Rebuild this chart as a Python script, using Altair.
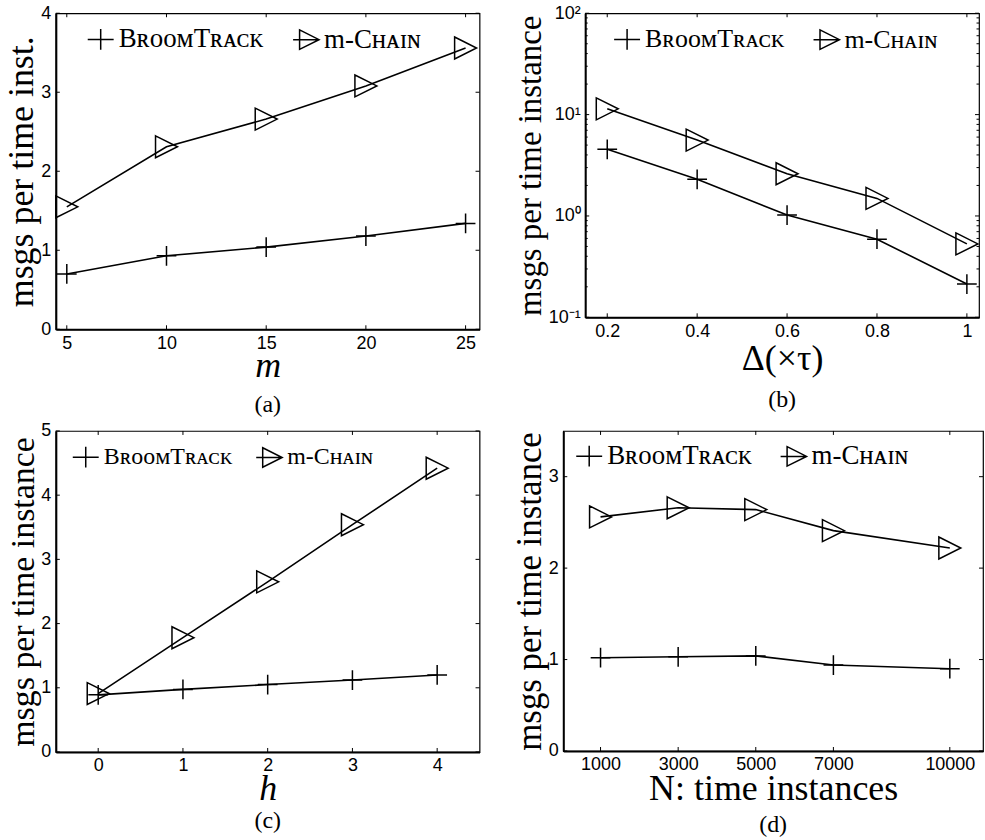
import altair as alt
import pandas as pd

SERIF = "Liberation Serif, Times New Roman, serif"
SANS = "Liberation Sans, Arial, Helvetica, sans-serif"

SERIES = ["BroomTrack", "m-Chain"]
LEGEND_TEXT = ["BʀᴏᴏᴍTʀᴀᴄᴋ", "m-Cʜᴀɪɴ"]

# ---- panel (a): messages vs m ----
a_x = [5, 10, 15, 20, 25]
a_broom = [0.70, 0.93, 1.04, 1.18, 1.34]
a_chain = [1.55, 2.31, 2.66, 3.08, 3.56]
a_yticks = [0, 1, 2, 3, 4]

# ---- panel (b): messages vs Delta (log y) ----
b_x = [0.2, 0.4, 0.6, 0.8, 1.0]
b_broom = [4.54, 2.30, 1.02, 0.59, 0.213]
b_chain = [11.4, 5.6, 2.61, 1.49, 0.53]
b_yticks = [0.1, 1, 10, 100]
b_yminor = [0.2, 0.3, 0.4, 0.5, 0.6, 0.7, 0.8, 0.9,
            2, 3, 4, 5, 6, 7, 8, 9,
            20, 30, 40, 50, 60, 70, 80, 90]

# ---- panel (c): messages vs h ----
c_x = [0, 1, 2, 3, 4]
c_broom = [0.89, 0.975, 1.05, 1.12, 1.20]
c_chain = [0.91, 1.78, 2.65, 3.54, 4.42]
c_yticks = [0, 1, 2, 3, 4, 5]

# ---- panel (d): messages vs N ----
d_x = [1000, 3000, 5000, 7000, 10000]
d_broom = [1.02, 1.03, 1.04, 0.94, 0.90]
d_chain = [2.56, 2.66, 2.64, 2.41, 2.22]
d_yticks = [0, 1, 2, 3]

# marker glyphs (unit-box SVG paths)
PLUS = "M-0.9,0H0.9M0,-0.9V0.9"
TRI = "M-1,-1L1,0L-1,1Z"
LEG_PLUS = "M-1,0H1M0,-0.8V0.8"
LEG_TRI = "M-1,0H1M-0.5,-0.75L1,0L-0.5,0.75Z"

label_expr = "datum.label == '%s' ? '%s' : '%s'" % (SERIES[0], LEGEND_TEXT[0], LEGEND_TEXT[1])
LOG_LABELS = ("datum.value < 0.5 ? '10⁻¹' : datum.value < 5 ? '10⁰' : "
              "datum.value < 50 ? '10¹' : '10²'")

AX = dict(labelFont=SANS, labelFontSize=18, labelColor="black", labelPadding=5,
          labelFlush=False, labelOverlap=False, domainColor="black", domainWidth=2,
          ticks=False, grid=False, titleFont=SERIF, titleFontWeight="normal",
          titleColor="black")


def panel(xv, broom, chain, xdom, ydom, xticks, yticks, w, h, xtitle, ytitle,
          caption, ytfs, lfs, lx, ly, xtpad, ytpad, xstyle="normal",
          ylog=False, xfmt="d", yminor=None, capoff=10, colpad=10):
    n = len(xv)
    df = pd.DataFrame({
        "x": list(xv) * 2,
        "y": list(broom) + list(chain),
        "series": [SERIES[0]] * n + [SERIES[1]] * n,
    })
    xs = alt.Scale(domain=xdom, nice=False, zero=False)
    if ylog:
        ys = alt.Scale(type="log", domain=ydom, nice=False)
        yaxis = alt.Axis(values=yticks, title=ytitle, titleFontSize=ytfs,
                         titlePadding=ytpad, labelExpr=LOG_LABELS, **AX)
    else:
        ys = alt.Scale(domain=ydom, nice=False, zero=False)
        yaxis = alt.Axis(values=yticks, title=ytitle, titleFontSize=ytfs,
                         titlePadding=ytpad, format="d", **AX)
    xaxis = alt.Axis(values=xticks, title=xtitle, titleFontSize=36,
                     titleFontStyle=xstyle, titlePadding=xtpad, format=xfmt, **AX)

    X = alt.X("x:Q", scale=xs, axis=xaxis)
    Y = alt.Y("y:Q", scale=ys, axis=yaxis)

    base = alt.Chart(df)
    line = base.mark_line(color="black", strokeWidth=1.6).encode(
        x=X, y=Y, detail="series:N", order="x:Q")
    pts = base.mark_point(filled=False, color="black", strokeWidth=1.5,
                          opacity=1).encode(
        x=X, y=Y,
        shape=alt.Shape("series:N", scale=alt.Scale(domain=SERIES, range=[PLUS, TRI]),
                        legend=None),
        size=alt.value(484))
    leg = base.transform_filter("false").mark_point(
        filled=False, color="black", strokeWidth=1.5, opacity=1).encode(
        x=X, y=Y,
        shape=alt.Shape("series:N",
                        scale=alt.Scale(domain=SERIES, range=[LEG_PLUS, LEG_TRI]),
                        legend=alt.Legend(orient="none", legendX=lx, legendY=ly,
                                          direction="horizontal", title=None,
                                          labelFont=SERIF, labelFontSize=lfs,
                                          labelColor="black", labelExpr=label_expr,
                                          labelOffset=4, columnPadding=colpad,
                                          symbolSize=676, symbolStrokeWidth=1.5,
                                          symbolStrokeColor="black",
                                          symbolFillColor="transparent",
                                          symbolOpacity=1, padding=0)))

    tdf_x = pd.DataFrame({"x": xticks})
    tdf_y = pd.DataFrame({"y": yticks})
    tick_b = alt.Chart(tdf_x).mark_rule(color="black", strokeWidth=1).encode(
        x=X, y=alt.value(h), y2=alt.value(h - 4))
    tick_t = alt.Chart(tdf_x).mark_rule(color="black", strokeWidth=1).encode(
        x=X, y=alt.value(0), y2=alt.value(4))
    tick_l = alt.Chart(tdf_y).mark_rule(color="black", strokeWidth=1).encode(
        y=Y, x=alt.value(0), x2=alt.value(4))
    tick_r = alt.Chart(tdf_y).mark_rule(color="black", strokeWidth=1).encode(
        y=Y, x=alt.value(w), x2=alt.value(w - 4))
    layers = [line, pts, leg, tick_b, tick_t, tick_l, tick_r]
    if yminor is not None:
        mdf = pd.DataFrame({"y": yminor})
        layers.append(alt.Chart(mdf).mark_rule(color="black", strokeWidth=1).encode(
            y=Y, x=alt.value(0), x2=alt.value(2.5)))
        layers.append(alt.Chart(mdf).mark_rule(color="black", strokeWidth=1).encode(
            y=Y, x=alt.value(w), x2=alt.value(w - 2.5)))

    return alt.layer(*layers).resolve_scale(shape="independent").properties(
        width=w, height=h,
        title=alt.TitleParams(caption, orient="bottom", font=SERIF, fontSize=24,
                              fontWeight="normal", color="black", offset=capoff))


pa = panel(a_x, a_broom, a_chain, [4.45, 25.7], [0, 4], a_x, a_yticks, 425, 317,
           "m", "msgs per time inst.", "(a)", 36, 27, 31, 12, -4, 0,
           xstyle="italic", capoff=10, colpad=26)
pb = panel(b_x, b_broom, b_chain, [0.151, 1.027], [0.1, 100], b_x, b_yticks, 395, 305,
           "Δ(×τ)", "msgs per time instance", "(b)", 33, 26, 28, 12, 1, 1,
           ylog=True, xfmt="~g", yminor=b_yminor, capoff=12, colpad=25)
pc = panel(c_x, c_broom, c_chain, [-0.5, 4.5], [0, 5], c_x, c_yticks, 425, 322,
           "h", "msgs per time instance", "(c)", 34, 24, 16, 12, -3, 0,
           xstyle="italic", capoff=2, colpad=20)
pd_ = panel(d_x, d_broom, d_chain, [40, 10855], [0, 3.5], d_x, d_yticks, 421, 321,
            "N: time instances", "msgs per time instance", "(d)", 35, 27, 12, 11, -2, 1,
            capoff=6, colpad=25)

row1 = alt.hconcat(pa, pb, spacing=32).resolve_scale(shape="independent")
row2 = alt.hconcat(pc, pd_, spacing=30).resolve_scale(shape="independent")

chart = alt.vconcat(row1, row2, spacing=3).resolve_scale(
    shape="independent").properties(
    padding={"left": 3, "top": 2, "right": 0, "bottom": 0},
    background="white",
).configure_view(stroke="black", strokeWidth=1.2).configure_axis(**AX)

chart.save("out.html", embed_options={"renderer": "svg", "actions": False})
